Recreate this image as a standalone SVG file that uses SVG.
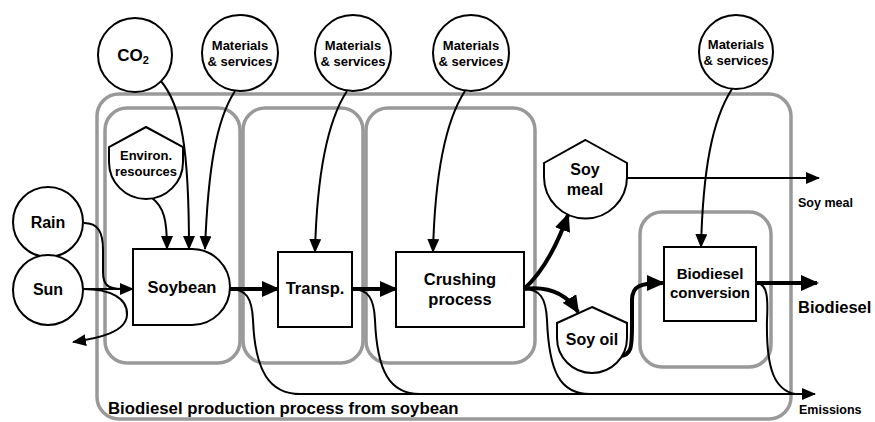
<svg xmlns="http://www.w3.org/2000/svg" width="875" height="422" viewBox="0 0 875 422">
<style>
.box{fill:none;stroke:#999;stroke-width:3.5}
.nd{fill:#fff;stroke:#000;stroke-width:2}
.t{font-family:"Liberation Sans",Arial,sans-serif;font-weight:bold;fill:#000;text-anchor:middle}
.l{font-family:"Liberation Sans",Arial,sans-serif;font-weight:bold;fill:#000}
.c{fill:none;stroke:#000;stroke-width:2}
.k{fill:none;stroke:#000;stroke-width:4}
</style>
<defs>
<marker id="a" markerUnits="userSpaceOnUse" markerWidth="14" markerHeight="12" refX="13" refY="6" orient="auto"><path d="M0,0 L14,6 L0,12 Z" fill="#000"/></marker>
<marker id="b" markerUnits="userSpaceOnUse" markerWidth="18" markerHeight="16" refX="16" refY="8" orient="auto"><path d="M0,0 L18,8 L0,16 Z" fill="#000"/></marker>
</defs>
<g id="frames">
<rect class="box" x="97" y="94" width="694" height="325" rx="22"/>
<rect class="box" x="105" y="108" width="135" height="255" rx="22"/>
<rect class="box" x="243" y="108" width="120" height="255" rx="22"/>
<rect class="box" x="366" y="108" width="169" height="255" rx="22"/>
<rect class="box" x="640" y="212" width="131" height="155" rx="22"/>
</g>
<g id="connectors">
<path class="c" d="M152,198 C164,207 167,220 167,249" marker-end="url(#a)"/>
<path class="c" d="M160,80 C182,105 189,150 189,249" marker-end="url(#a)"/>
<path class="c" d="M235,91 C216,120 208,170 205,249" marker-end="url(#a)"/>
<path class="c" d="M347,91 C328,120 317,170 315,252" marker-end="url(#a)"/>
<path class="c" d="M465,91 C446,120 435,170 433,252" marker-end="url(#a)"/>
<path class="c" d="M732,89 C712,120 703,170 701,247" marker-end="url(#a)"/>
<path class="c" d="M84,223 C98,223 103,232 103,250 L103,272 C103,285 108,289 122,289"/>
<path class="c" d="M83,289 L133,289" stroke-width="2.5" marker-end="url(#a)"/>
<path class="c" d="M83,289 C110,289 128,298 127,315 C126,332 100,338 73,342" marker-end="url(#a)"/>
<path class="k" d="M230,289 L278,289" marker-end="url(#b)"/>
<path class="k" d="M352,289 L396,289" marker-end="url(#b)"/>
<path class="k" d="M524,289 C542,273 556,248 568,215" marker-end="url(#b)"/>
<path class="k" d="M524,289 C548,286 566,293 578,312" marker-end="url(#b)"/>
<path class="k" d="M619,356 C632,356 632,346 632,325 L632,300 C632,286 640,283 663,283" marker-end="url(#b)"/>
<path class="k" d="M756,283 L817,283" marker-end="url(#b)"/>
<path class="c" d="M627,178 L819,178" marker-end="url(#a)"/>
<path class="c" d="M230,289 C246,289 252,298 253,320 C255,372 270,394 300,394"/>
<path class="c" d="M352,289 C368,289 374,298 375,320 C377,372 390,394 420,394"/>
<path class="c" d="M524,289 C540,289 546,298 547,320 C549,372 560,394 590,394"/>
<path class="c" d="M756,283 C768,283 768,300 767,320 C766,370 775,390 795,394"/>
<path class="c" d="M295,394 L815,394" marker-end="url(#a)"/>
</g>
<g id="co2"><circle class="nd" cx="135" cy="55" r="37"/><text class="t" x="133" y="61" font-size="17">CO<tspan font-size="11" dy="3">2</tspan></text></g>
<g id="mat1"><circle class="nd" cx="240" cy="53" r="38"/><text class="t" x="240" y="50" font-size="13">Materials</text><text class="t" x="240" y="66" font-size="13">&amp; services</text></g>
<g id="mat2"><circle class="nd" cx="353" cy="53" r="38"/><text class="t" x="353" y="50" font-size="13">Materials</text><text class="t" x="353" y="66" font-size="13">&amp; services</text></g>
<g id="mat3"><circle class="nd" cx="471" cy="53" r="38"/><text class="t" x="471" y="50" font-size="13">Materials</text><text class="t" x="471" y="66" font-size="13">&amp; services</text></g>
<g id="mat4"><circle class="nd" cx="736" cy="52" r="37"/><text class="t" x="736" y="49" font-size="13">Materials</text><text class="t" x="736" y="65" font-size="13">&amp; services</text></g>
<g id="rain"><circle class="nd" cx="48" cy="222" r="35"/><text class="t" x="48" y="228" font-size="16">Rain</text></g>
<g id="sun"><circle class="nd" cx="48" cy="290" r="35"/><text class="t" x="48" y="295" font-size="16">Sun</text></g>
<g id="environ"><path class="nd" d="M146,127 L183,147 L183,162 A37,37 0 0 1 109,162 L109,147 Z"/><text class="t" x="146" y="160" font-size="13">Environ.</text><text class="t" x="146" y="176" font-size="13">resources</text></g>
<g id="soybean"><path class="nd" d="M133,249 L192,249 A38,38 0 0 1 192,325 L133,325 Z"/><text class="t" x="182" y="293" font-size="16.5">Soybean</text></g>
<g id="transp"><rect class="nd" x="278" y="252" width="74" height="75"/><text class="t" x="315" y="294" font-size="16.5">Transp.</text></g>
<g id="crushing"><rect class="nd" x="396" y="252" width="128" height="75"/><text class="t" x="460" y="285" font-size="16.5">Crushing</text><text class="t" x="460" y="305" font-size="16.5">process</text></g>
<g id="soymeal"><path class="nd" d="M585.5,140 L627,163 L627,177 A41.5,41.5 0 0 1 544,177 L544,163 Z"/><text class="t" x="585" y="175" font-size="16">Soy</text><text class="t" x="585" y="195" font-size="16">meal</text></g>
<g id="soyoil"><path class="nd" d="M592,307 L627,323 L627,338 A35,35 0 0 1 557,338 L557,323 Z"/><text class="t" x="592" y="345" font-size="16">Soy oil</text></g>
<g id="conversion"><rect class="nd" x="664" y="247" width="92" height="74"/><text class="t" x="710" y="279" font-size="15">Biodiesel</text><text class="t" x="710" y="298" font-size="15">conversion</text></g>
<g id="labels">
<text class="l" x="798" y="207" font-size="12.5">Soy meal</text>
<text class="l" x="798" y="313" font-size="16.5">Biodiesel</text>
<text class="l" x="799" y="414" font-size="12.5">Emissions</text>
<text class="l" x="108" y="414" font-size="16.8">Biodiesel production process from soybean</text>
</g>
</svg>
